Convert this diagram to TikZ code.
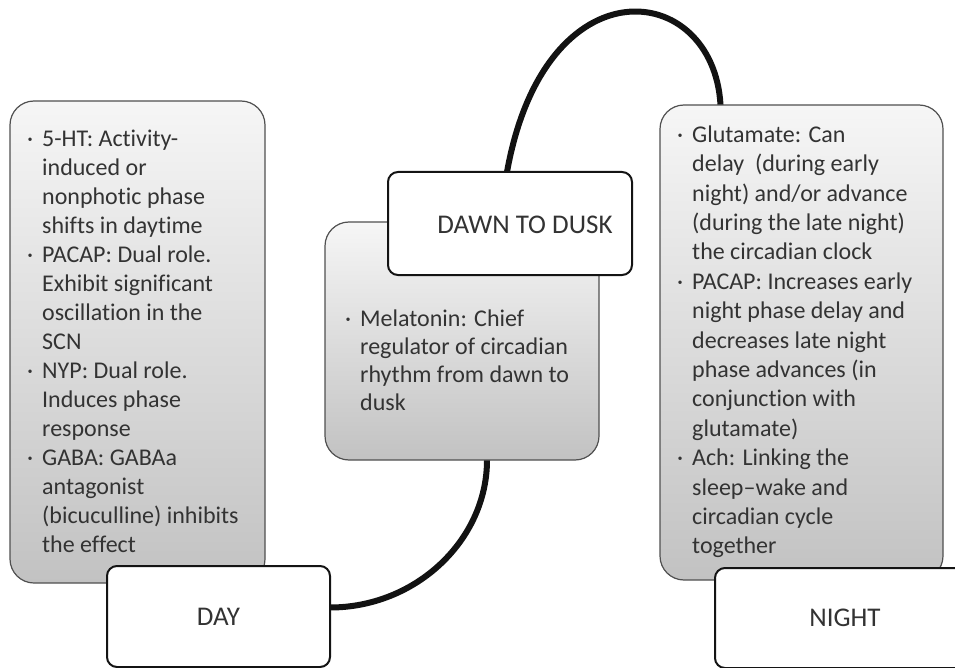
\documentclass[tikz,border=0pt]{standalone}
\usepackage{fontspec}
\setmainfont{Carlito}[Ligatures={NoCommon}]
\usetikzlibrary{shadings,backgrounds}
\definecolor{txtc}{HTML}{333333}
\definecolor{boxline}{HTML}{505050}
\definecolor{gtop}{HTML}{F6F6F6}
\definecolor{gbot}{HTML}{C2C2C2}
\newcommand{\bul}{\llap{\textperiodcentered\hspace{9pt}}}
\newcommand{\fst}{\rule{0pt}{20pt}}
\begin{document}
\begin{tikzpicture}[x=1pt,y=-1pt,
  graybox/.style={draw=boxline, line width=1.2pt, rounded corners=24pt, top color=gtop, bottom color=gbot, inner sep=0pt, outer sep=0pt},
  whitebox/.style={draw=black!92, line width=2pt, fill=white, rounded corners=10pt, inner sep=0pt, outer sep=0pt},
  conn/.style={line width=6pt, draw=black!93},
  txt/.style={text=txtc, font=\fontsize{24}{29}\selectfont, align=left, inner sep=0pt},
  lbl/.style={text=txtc, font=\fontsize{27}{30}\selectfont, inner sep=0pt}]
\useasboundingbox (0,0) rectangle (955,668);
\clip (0,0) rectangle (955,668);
% gray boxes
\node[graybox, minimum width=255pt, minimum height=482pt] (left) at (137.5,342) {};
\node[graybox, minimum width=274pt, minimum height=238pt] (mid) at (462,341) {};
\node[graybox, minimum width=283pt, minimum height=475pt] (right) at (801.5,342.5) {};
% texts in gray boxes
\node[txt, anchor=north west] (ltext) at (42,126) {\fst\bul 5-HT: Activity-\\ induced or\\ nonphotic phase\\ shifts in daytime\\ \bul PACAP: Dual role.\\ Exhibit significant\\ oscillation in the\\ SCN\\ \bul NYP: Dual role.\\ Induces phase\\ response\\ \bul GABA: GABAa\\ antagonist\\ (bicuculline) inhibits\\ the effect};
\node[txt, anchor=north west, font=\fontsize{24}{28}\selectfont] (mtext) at (360,306) {\fst\bul Melatonin: Chief\\ regulator of circadian\\ rhythm from dawn to\\ dusk};
\node[txt, anchor=north west, font=\fontsize{24}{29.4}\selectfont] (rtext) at (692,122) {\fst\bul Glutamate: Can\\ delay \ (during early\\ night) and/or advance\\ (during the late night)\\ the circadian clock\\ \bul PACAP: Increases early\\ night phase delay and\\ decreases late night\\ phase advances (in\\ conjunction with\\ glutamate)\\ \bul Ach: Linking the\\ sleep–wake and\\ circadian cycle\\ together};
% white boxes
\node[whitebox, minimum width=223pt, minimum height=101pt] (day) at (218.5,616.5) {};
\node[lbl] (daylbl) at (218.5,617) {DAY};
\node[whitebox, minimum width=244pt, minimum height=103pt] (dawn) at (510,223.5) {};
\node[lbl] (dawnlbl) at (525,225) {DAWN TO DUSK};
\node[whitebox, minimum width=260pt, minimum height=100pt] (night) at (845,618) {};
\node[lbl] (nightlbl) at (845,618) {NIGHT};
% connectors
\begin{pgfonlayer}{background}
\coordinate (dayout) at ([yshift=9pt]day.east);
\coordinate (midin) at ([xshift=25pt]mid.south);
\coordinate (dawnout) at ([xshift=-3pt]dawn.north);
\coordinate (rightin) at ([xshift=-81pt]right.north);
\draw[conn] (dayout) .. controls +(86,0) and +(0,80) .. (midin);
\draw[conn] (dawnout) .. controls +(38,-212) and +(-7,-125) .. (rightin);
\end{pgfonlayer}
\end{tikzpicture}
\end{document}
